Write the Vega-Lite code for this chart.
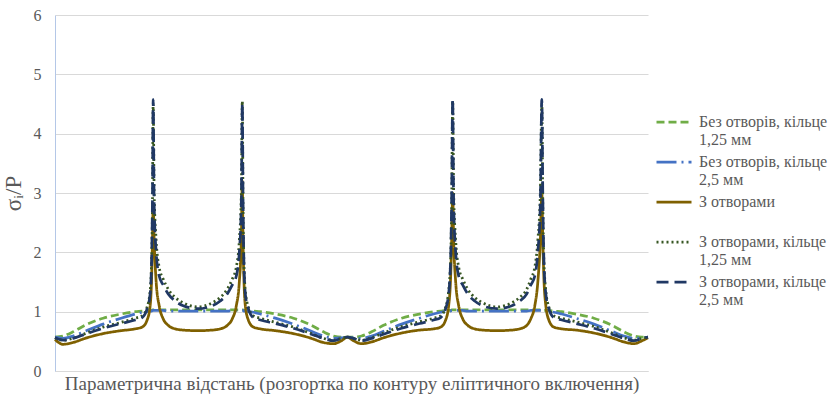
{
"$schema": "https://vega.github.io/schema/vega-lite/v6.json",
"width": 593, "height": 356,
"autosize": {"type": "none"},
"padding": {"left": 55, "top": 15, "right": 185, "bottom": 26},
"background": "white",
"config": {"view": {"stroke": null}, "font": "Liberation Serif",
 "legend": {"orient": "none", "legendX": 600, "legendY": 93, "title": null, "symbolType": "stroke", "symbolSize": 1225, "symbolStrokeWidth": 2.75, "labelFont": "Liberation Serif", "labelFontSize": 16, "labelColor": "#595959", "labelLimit": 0, "labelOffset": 6, "rowPadding": 0, "clipHeight": 28, "labelBaseline": "middle"}},
"data": {"values": [
{"t":0,"g":0.57,"b":0.57,"o":0.53,"d":0.56,"n":0.56},
{"t":8,"g":0.59,"b":0.55,"o":0.45,"d":0.52,"n":0.52},
{"t":18,"g":0.66,"b":0.59,"o":0.48,"d":0.55,"n":0.55},
{"t":30,"g":0.77,"b":0.67,"o":0.55,"d":0.63,"n":0.62},
{"t":48,"g":0.89,"b":0.79,"o":0.63,"d":0.74,"n":0.72},
{"t":66,"g":0.96,"b":0.89,"o":0.68,"d":0.82,"n":0.8},
{"t":80,"g":1.0,"b":0.96,"o":0.71,"d":0.89,"n":0.86},
{"t":87,"g":1.01,"b":0.99,"o":0.74,"d":0.93,"n":0.9},
{"t":92,"g":1.02,"b":1.0,"o":0.86,"d":1.08,"n":1.05},
{"t":95,"g":1.02,"b":1.01,"o":1.1,"d":1.35,"n":1.3},
{"t":96.5,"g":1.02,"b":1.01,"o":1.6,"d":1.9,"n":1.9},
{"t":97.3,"g":1.03,"b":1.02,"o":2.2,"d":2.8,"n":2.9},
{"t":98,"g":1.03,"b":1.02,"o":2.8,"d":4.5,"n":4.58},
{"t":99,"g":1.03,"b":1.02,"o":2.2,"d":3.0,"n":2.8},
{"t":101,"g":1.03,"b":1.02,"o":1.5,"d":2.2,"n":2.0},
{"t":104,"g":1.03,"b":1.02,"o":1.1,"d":1.75,"n":1.6},
{"t":108,"g":1.03,"b":1.02,"o":0.88,"d":1.55,"n":1.45},
{"t":113,"g":1.03,"b":1.01,"o":0.77,"d":1.38,"n":1.3},
{"t":120,"g":1.03,"b":1.01,"o":0.71,"d":1.24,"n":1.18},
{"t":128,"g":1.03,"b":1.01,"o":0.69,"d":1.15,"n":1.1},
{"t":142.5,"g":1.03,"b":1.01,"o":0.68,"d":1.08,"n":1.05},
{"t":157,"g":1.03,"b":1.01,"o":0.69,"d":1.15,"n":1.1},
{"t":165,"g":1.03,"b":1.01,"o":0.71,"d":1.24,"n":1.18},
{"t":172,"g":1.03,"b":1.01,"o":0.77,"d":1.38,"n":1.3},
{"t":177,"g":1.03,"b":1.02,"o":0.88,"d":1.55,"n":1.45},
{"t":181,"g":1.03,"b":1.02,"o":1.1,"d":1.75,"n":1.6},
{"t":184,"g":1.03,"b":1.02,"o":1.5,"d":2.2,"n":2.0},
{"t":186,"g":1.03,"b":1.02,"o":2.2,"d":3.0,"n":2.8},
{"t":187,"g":1.03,"b":1.02,"o":3.2,"d":4.55,"n":4.5},
{"t":187.7,"g":1.03,"b":1.02,"o":2.2,"d":2.8,"n":2.9},
{"t":188.5,"g":1.02,"b":1.01,"o":1.6,"d":1.9,"n":1.9},
{"t":190,"g":1.02,"b":1.01,"o":1.1,"d":1.35,"n":1.3},
{"t":193,"g":1.02,"b":1.0,"o":0.86,"d":1.08,"n":1.05},
{"t":198,"g":1.01,"b":0.99,"o":0.74,"d":0.93,"n":0.9},
{"t":205,"g":1.0,"b":0.96,"o":0.71,"d":0.89,"n":0.86},
{"t":220,"g":0.96,"b":0.89,"o":0.68,"d":0.82,"n":0.8},
{"t":238,"g":0.89,"b":0.79,"o":0.63,"d":0.74,"n":0.72},
{"t":256,"g":0.77,"b":0.67,"o":0.55,"d":0.63,"n":0.62},
{"t":268,"g":0.66,"b":0.59,"o":0.48,"d":0.55,"n":0.55},
{"t":278,"g":0.59,"b":0.55,"o":0.46,"d":0.52,"n":0.51},
{"t":286,"g":0.57,"b":0.56,"o":0.51,"d":0.55,"n":0.55},
{"t":292,"g":0.57,"b":0.57,"o":0.57,"d":0.57,"n":0.57},
{"t":298,"g":0.57,"b":0.56,"o":0.51,"d":0.55,"n":0.55},
{"t":306,"g":0.59,"b":0.55,"o":0.46,"d":0.52,"n":0.51},
{"t":316,"g":0.66,"b":0.59,"o":0.49,"d":0.56,"n":0.55},
{"t":328,"g":0.77,"b":0.67,"o":0.56,"d":0.64,"n":0.62},
{"t":346,"g":0.89,"b":0.79,"o":0.64,"d":0.75,"n":0.72},
{"t":364,"g":0.96,"b":0.89,"o":0.69,"d":0.83,"n":0.8},
{"t":378,"g":1.0,"b":0.96,"o":0.71,"d":0.89,"n":0.86},
{"t":385,"g":1.01,"b":0.99,"o":0.74,"d":0.93,"n":0.9},
{"t":390,"g":1.02,"b":1.0,"o":0.86,"d":1.08,"n":1.05},
{"t":393,"g":1.02,"b":1.01,"o":1.1,"d":1.35,"n":1.3},
{"t":395,"g":1.02,"b":1.01,"o":1.6,"d":1.9,"n":1.9},
{"t":396,"g":1.03,"b":1.02,"o":2.2,"d":2.8,"n":2.9},
{"t":397,"g":1.03,"b":1.02,"o":3.0,"d":4.55,"n":4.58},
{"t":398,"g":1.03,"b":1.02,"o":2.2,"d":3.0,"n":2.8},
{"t":400,"g":1.03,"b":1.02,"o":1.5,"d":2.2,"n":2.0},
{"t":403,"g":1.03,"b":1.02,"o":1.1,"d":1.75,"n":1.6},
{"t":407,"g":1.03,"b":1.02,"o":0.88,"d":1.55,"n":1.45},
{"t":412,"g":1.03,"b":1.01,"o":0.77,"d":1.38,"n":1.3},
{"t":419,"g":1.03,"b":1.01,"o":0.71,"d":1.24,"n":1.18},
{"t":427,"g":1.03,"b":1.01,"o":0.69,"d":1.15,"n":1.1},
{"t":441.5,"g":1.03,"b":1.01,"o":0.68,"d":1.08,"n":1.05},
{"t":456,"g":1.03,"b":1.01,"o":0.69,"d":1.15,"n":1.1},
{"t":464,"g":1.03,"b":1.01,"o":0.71,"d":1.24,"n":1.18},
{"t":471,"g":1.03,"b":1.01,"o":0.77,"d":1.38,"n":1.3},
{"t":475,"g":1.03,"b":1.02,"o":0.88,"d":1.55,"n":1.45},
{"t":479,"g":1.03,"b":1.02,"o":1.1,"d":1.75,"n":1.6},
{"t":482,"g":1.03,"b":1.02,"o":1.5,"d":2.2,"n":2.0},
{"t":484.5,"g":1.03,"b":1.02,"o":2.2,"d":3.0,"n":2.8},
{"t":486,"g":1.03,"b":1.02,"o":3.0,"d":4.5,"n":4.58},
{"t":487,"g":1.03,"b":1.02,"o":2.2,"d":2.8,"n":2.9},
{"t":488,"g":1.02,"b":1.01,"o":1.6,"d":1.9,"n":1.9},
{"t":490,"g":1.02,"b":1.01,"o":1.1,"d":1.35,"n":1.3},
{"t":493,"g":1.02,"b":1.0,"o":0.86,"d":1.08,"n":1.05},
{"t":498,"g":1.01,"b":0.99,"o":0.74,"d":0.93,"n":0.9},
{"t":506,"g":1.0,"b":0.96,"o":0.71,"d":0.89,"n":0.86},
{"t":520,"g":0.96,"b":0.89,"o":0.69,"d":0.83,"n":0.8},
{"t":538,"g":0.89,"b":0.79,"o":0.64,"d":0.75,"n":0.72},
{"t":556,"g":0.77,"b":0.67,"o":0.56,"d":0.64,"n":0.62},
{"t":568,"g":0.66,"b":0.59,"o":0.49,"d":0.56,"n":0.55},
{"t":578,"g":0.59,"b":0.55,"o":0.46,"d":0.52,"n":0.51},
{"t":586,"g":0.57,"b":0.56,"o":0.51,"d":0.55,"n":0.55},
{"t":592,"g":0.57,"b":0.57,"o":0.56,"d":0.57,"n":0.57}
]},
"transform": [{"fold": ["g", "b", "o", "d", "n"], "as": ["series", "v"]}],
"mark": {"type": "line", "strokeWidth": 2.75, "interpolate": "monotone"},
"encoding": {
 "x": {"field": "t", "type": "quantitative", "scale": {"domain": [0, 592], "nice": false, "zero": false},
  "axis": {"labels": false, "ticks": false, "grid": false, "domainColor": "#D9D9D9", "title": "Параметрична відстань (розгортка по контуру еліптичного включення)", "titleFont": "Liberation Serif", "titleFontSize": 19, "titleFontWeight": "normal", "titleColor": "#595959", "titlePadding": 3}},
 "y": {"field": "v", "type": "quantitative", "scale": {"domain": [0, 6], "nice": false},
  "axis": {"values": [0, 1, 2, 3, 4, 5, 6], "ticks": false, "gridColor": "#D9D9D9", "domainColor": "#B4C7E7", "labelFont": "Liberation Serif", "labelFontSize": 16, "labelColor": "#595959", "labelPadding": 14, "title": "σᵢ/P", "titleFont": "Liberation Serif", "titleFontSize": 23, "titleFontWeight": "normal", "titleColor": "#595959", "titlePadding": 8}},
 "color": {"field": "series", "type": "nominal", "scale": {"domain": ["g", "b", "o", "d", "n"], "range": ["#70AD47", "#4472C4", "#7F6000", "#375623", "#203864"]},
  "legend": {"labelExpr": "datum.label == 'g' ? ['Без отворів, кільце', '1,25 мм'] : datum.label == 'b' ? ['Без отворів, кільце', '2,5 мм'] : datum.label == 'o' ? ['З отворами', ''] : datum.label == 'd' ? ['З отворами, кільце', '1,25 мм'] : ['З отворами, кільце', '2,5 мм']"}},
 "strokeDash": {"field": "series", "type": "nominal", "scale": {"domain": ["g", "b", "o", "d", "n"], "range": [[8, 4], [20, 5, 2, 5], [1, 0], [2, 3], [12, 6]]},
  "legend": {"labelExpr": "datum.label == 'g' ? ['Без отворів, кільце', '1,25 мм'] : datum.label == 'b' ? ['Без отворів, кільце', '2,5 мм'] : datum.label == 'o' ? ['З отворами', ''] : datum.label == 'd' ? ['З отворами, кільце', '1,25 мм'] : ['З отворами, кільце', '2,5 мм']"}}
}
}
